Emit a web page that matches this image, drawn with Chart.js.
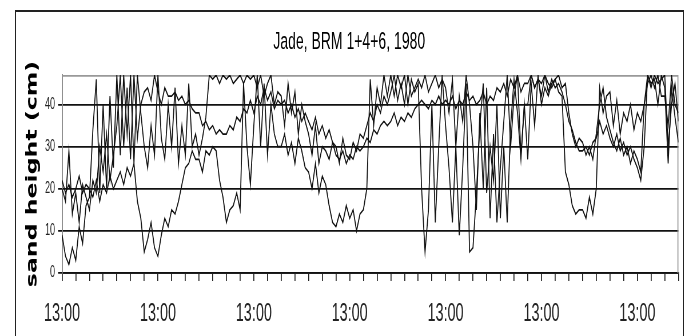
<!DOCTYPE html>
<html>
<head>
<meta charset="utf-8">
<script src="https://cdn.jsdelivr.net/npm/chart.js@4.4.0/dist/chart.umd.min.js"></script>
<style>
body { margin: 0; background: #fff; }
#page { position: relative; width: 689px; height: 336px; overflow: hidden; }
#cadre { position: absolute; left: 15px; top: 10px; width: 667px; height: 340px;
         border-top: 2px solid #222; border-left: 1px solid #222; border-right: 1px solid #222; }
/* the original scan is stretched vertically, so the chart is drawn flat and stretched back */
#zone { position: absolute; left: 0; top: 0; width: 689px; height: 192px;
        transform: scaleY(1.75); transform-origin: 0 0; }
</style>
</head>
<body>
<div id="page">
  <div id="cadre"></div>
  <div id="zone"><canvas id="graphs" width="689" height="192"></canvas></div>
</div>
<script>
var titre = "Jade, BRM 1+4+6, 1980";
var titreY = "sand height (cm)";
var labelX = "13:00";
var labelTousLes = 7;      // one "13:00" every 7 tick marks
var nbTicksX = 45;         // tick intervals on the time axis
var pointsParTick = 4;     // readings per tick interval
var yMax = 47;
var yTicks = [0, 10, 20, 30, 40];

// sand height, cm (4 readings per tick)
var brm1 = [
  22, 19, 21, 18, 20, 23, 19, 21,
  20, 18, 22, 17, 21, 19, 23, 20,
  22, 24, 21, 25, 23, 26, 17, 13,
  5, 8, 12, 6, 4, 9, 13, 11,
  15, 14, 17, 21, 25, 26, 29, 27,
  27, 24, 29, 28, 30, 29, 22, 18,
  12, 15, 16, 19, 15, 45, 30, 21,
  35, 47, 30, 45, 28, 40, 33, 30,
  30, 33, 28, 31, 26, 32, 29, 25,
  24, 20, 26, 19, 23, 21, 16, 12,
  11, 14, 12, 16, 13, 15, 10, 14,
  15, 20, 46, 35, 44, 40, 47, 42,
  47, 42, 47, 44, 47, 40, 46, 43,
  45, 20, 5, 15, 40, 12, 30, 47,
  35, 25, 12, 30, 9, 25, 45, 5,
  6, 19, 35, 45, 19, 30, 22, 40,
  13, 30, 12, 35, 46, 38, 27, 40,
  27, 45, 35, 47, 40, 44, 42, 45,
  46, 43, 42, 24, 21, 16, 14, 15,
  15, 13, 18, 14, 20, 44, 38, 42,
  43, 35, 41, 33, 38, 36, 40, 34,
  38, 36, 40, 47, 44, 47, 45, 46,
  47, 30, 40, 45, 36
];
var brm4 = [
  9, 4, 2, 6, 3, 11, 7, 16,
  18, 34, 46, 19, 40, 20, 42, 25,
  47, 28, 47, 33, 47, 26, 47, 38,
  30, 25, 35, 28, 47, 32, 27, 40,
  30, 44, 26, 35, 28, 45, 30, 33,
  28, 32, 37, 47, 46, 47, 45, 47,
  46, 47, 45, 46, 47, 45, 47, 46,
  47, 44, 47, 42, 45, 47, 40, 43,
  42, 35, 45, 38, 43, 33, 40, 36,
  33, 28, 35, 26, 30, 29, 27, 31,
  30, 26, 32, 28, 27, 31, 29, 33,
  32, 35, 38, 36, 40, 38, 42, 40,
  43, 47, 41, 45, 40, 47, 42, 44,
  46, 44, 47, 43, 45, 47, 44, 46,
  44, 38, 46, 30, 42, 36, 47, 40,
  30, 15, 38, 20, 44, 13, 33, 12,
  25, 36, 47, 30, 42, 47, 28, 40,
  40, 47, 44, 46, 42, 47, 45, 44,
  46, 47, 44, 45, 38, 33, 30, 32,
  31, 28, 30, 27, 33, 40, 44, 37,
  34, 31, 29, 32, 28, 30, 26, 29,
  27, 24, 40, 45, 47, 44, 47, 42,
  42, 35, 47, 40, 38
];
var brm6 = [
  20, 17, 29, 14, 19, 12, 21, 18,
  15, 22, 19, 30, 24, 33, 22, 28,
  35, 47, 30, 44, 27, 47, 32, 40,
  43, 44, 41, 47, 43, 40, 44, 42,
  42, 43, 41, 42, 40, 41, 39, 38,
  38, 35, 36, 34, 35, 33, 34, 33,
  33, 35, 34, 37, 36, 39, 38, 41,
  38, 42, 40, 44, 41, 43, 39, 41,
  40, 41, 38, 40, 37, 39, 36, 38,
  36, 34, 37, 33, 35, 32, 34, 31,
  28, 27, 29, 26, 28, 27, 30, 29,
  30, 32, 31, 34, 33, 35, 36, 35,
  36, 38, 35, 37, 36, 38, 37, 39,
  40, 41, 40, 39, 41, 40, 42, 40,
  41, 40, 42, 39, 41, 40, 43, 41,
  42, 40, 41, 43, 40, 42, 41, 44,
  43, 45, 42, 46, 44, 47, 43, 45,
  45, 47, 44, 46, 45, 47, 43, 46,
  44, 45, 43, 40, 36, 34, 31, 29,
  29, 30, 28, 31, 32, 36, 33, 35,
  32, 30, 33, 29, 31, 28, 30, 27,
  25, 22, 30, 47, 45, 46, 40, 47,
  44, 26, 44, 37, 31
];

//Position of each reading on the tick axis
var temps = [];
for (var i = 0; i < brm1.length; i++) {
    temps.push(i / pointsParTick);
}
var graduationsX = [];
for (var k = 0; k <= nbTicksX; k++) {
    graduationsX.push(k);
}

function serie(nom, valeurs) {
    return {
        label: nom,
        data: valeurs,
        borderColor: '#111',
        borderWidth: 1,
        pointRadius: 0,
        tension: 0,
        fill: false
    };
}

//Grey border on top and right of the plot area
var cadrePlot = {
    id: 'cadrePlot',
    beforeDatasetsDraw: function(chart) {
        var a = chart.chartArea;
        var c = chart.ctx;
        c.save();
        c.strokeStyle = '#999';
        c.lineWidth = 1;
        c.beginPath();
        c.moveTo(a.left, a.top + 0.5);
        c.lineTo(a.right - 0.5, a.top + 0.5);
        c.lineTo(a.right - 0.5, a.bottom);
        c.stroke();
        c.restore();
    }
};

var police = "'Liberation Sans', Arial, sans-serif";
var ctx = document.getElementById('graphs').getContext('2d');
window.myChart = new Chart(ctx, {
    type: 'line',
    data: {
        labels: temps,
        datasets: [serie('BRM 1', brm1), serie('BRM 4', brm4), serie('BRM 6', brm6)]
    },
    options: {
        responsive: false,
        devicePixelRatio: 1.75,
        animation: false,
        layout: { padding: { left: 20, right: 11 } },
        plugins: {
            legend: { display: false },
            tooltip: { enabled: false },
            title: {
                display: true,
                text: titre,
                color: '#000',
                font: { family: police, size: 14, weight: 'normal' },
                padding: { top: 15.9, bottom: 10.2 }
            }
        },
        scales: {
            x: {
                type: 'linear',
                min: 0,
                max: nbTicksX,
                afterBuildTicks: function(s) {
                    s.ticks = graduationsX.map(function(v) { return { value: v }; });
                },
                afterFit: function(s) { s.height = 36; },
                grid: { display: true, drawOnChartArea: false, drawTicks: true, tickLength: 4.6, color: '#222' },
                border: { color: '#111', width: 1 },
                ticks: {
                    autoSkip: false,
                    maxRotation: 0,
                    padding: 10,
                    color: '#222',
                    font: { family: police, size: 14.4 },
                    callback: function(v) { return v % labelTousLes === 0 ? labelX : ''; }
                }
            },
            y: {
                min: 0,
                max: yMax,
                afterBuildTicks: function(s) {
                    s.ticks = yTicks.map(function(v) { return { value: v }; });
                },
                afterFit: function(s) { s.width = 42; },
                grid: { color: '#111', tickLength: 4 },
                border: { color: '#777' },
                ticks: { padding: 3, color: '#222', font: { family: police, size: 9 } },
                title: {
                    display: true,
                    text: titreY,
                    color: '#000',
                    font: { family: "'DejaVu Sans Condensed', " + police, size: 15, weight: 'bold' },
                    padding: { top: 3.5, bottom: 0 }
                }
            }
        }
    },
    plugins: [cadrePlot]
});
</script>
</body>
</html>
